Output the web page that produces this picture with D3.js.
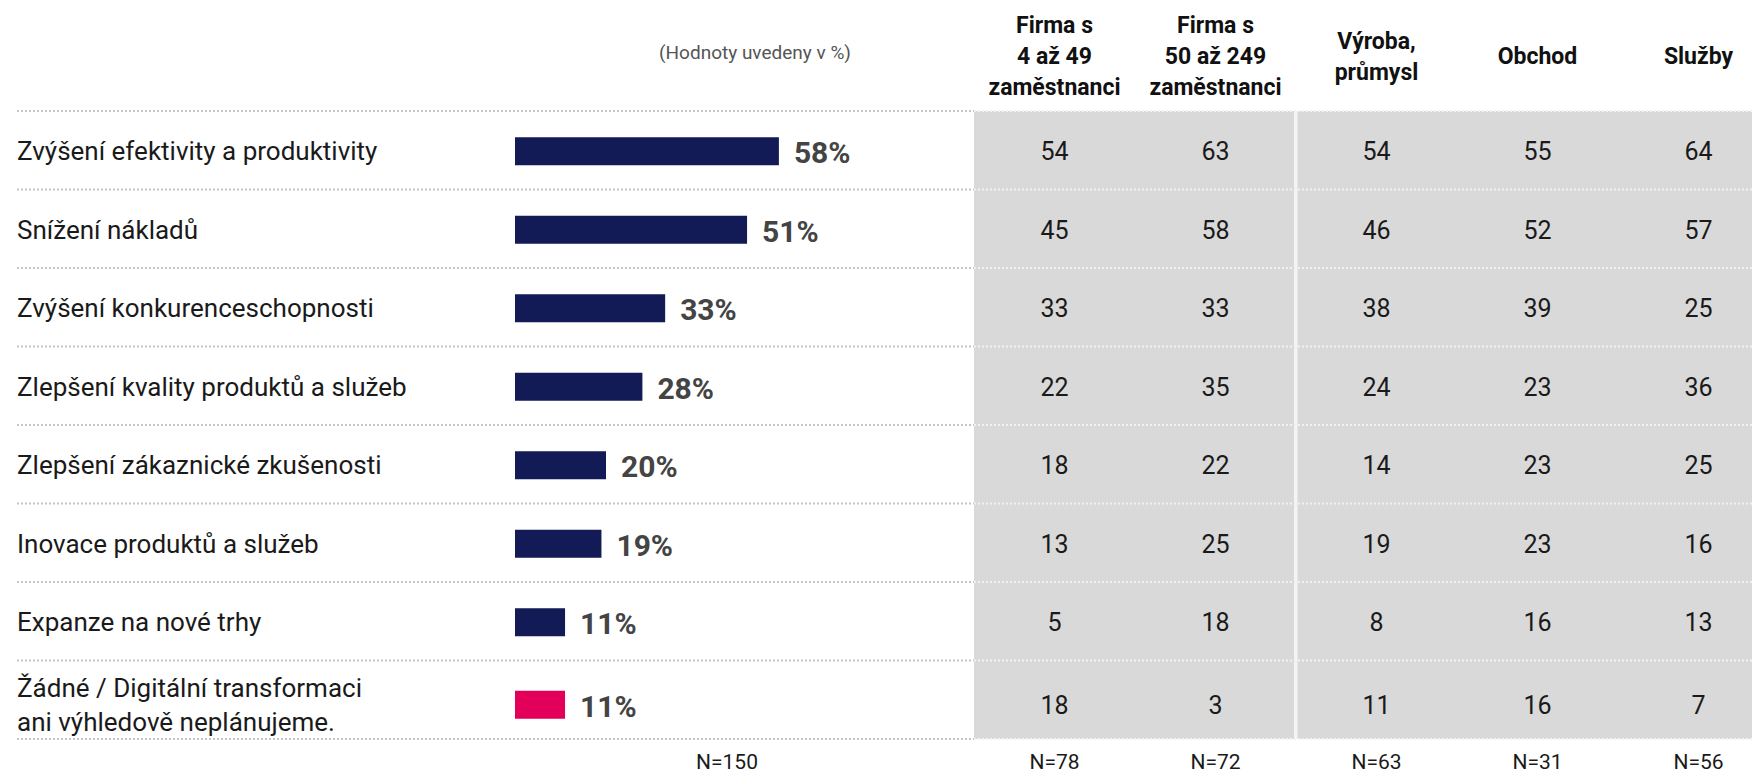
<!DOCTYPE html>
<html>
<head>
<meta charset="utf-8">
<script src="https://cdn.jsdelivr.net/npm/d3@7"></script>
<style>
  html, body { margin: 0; padding: 0; background: #fff; }
  svg { display: block; font-family: Roboto, "Noto Sans", sans-serif; }
</style>
</head>
<body>
<div id="chart"></div>
<script>
// data
var categories = [
    "Zvýšení efektivity a produktivity",
    "Snížení nákladů",
    "Zvýšení konkurenceschopnosti",
    "Zlepšení kvality produktů a služeb",
    "Zlepšení zákaznické zkušenosti",
    "Inovace produktů a služeb",
    "Expanze na nové trhy",
    "Žádné / Digitální transformaci|ani výhledově neplánujeme."
];
var totals = [58, 51, 33, 28, 20, 19, 11, 11];
var columnHeads = [
    ["Firma s", "4 až 49", "zaměstnanci"],
    ["Firma s", "50 až 249", "zaměstnanci"],
    ["Výroba,", "průmysl"],
    ["Obchod"],
    ["Služby"]
];
var small = [54, 45, 33, 22, 18, 13, 5, 18];
var medium = [63, 58, 33, 35, 22, 25, 18, 3];
var industry = [54, 46, 38, 24, 14, 19, 8, 11];
var trade = [55, 52, 39, 23, 23, 23, 16, 16];
var services = [64, 57, 25, 36, 25, 16, 13, 7];
var sampleTotal = "N=150";
var sampleCols = ["N=78", "N=72", "N=63", "N=31", "N=56"];
var unitNote = "(Hodnoty uvedeny v %)";

var tableCols = [small, medium, industry, trade, services];

var width = 1752, height = 774;
const top0 = 111, bottom0 = 739;
const gridLeft = 974;
const colW = 161;

var svg = d3.select('#chart').append('svg')
    .attr('width', width)
    .attr('height', height);

var y = d3.scaleBand()
    .domain(d3.range(categories.length))
    .range([top0, bottom0]);

var x = d3.scaleLinear()
    .domain([0, 100])
    .range([515, 515 + 455]);

var col = d3.scaleBand()
    .domain(d3.range(tableCols.length))
    .range([gridLeft, gridLeft + colW * tableCols.length]);

// the two-line last row sits a bit lower in the source
function rowMid(i) {
    return y(i) + y.bandwidth() / 2 + (i == categories.length - 1 ? 5 : 1);
}

// grey table background
svg.append('rect')
    .attr('x', gridLeft).attr('y', top0)
    .attr('width', width - gridLeft).attr('height', bottom0 - top0)
    .style('fill', '#d9d9d9');

// separator between company size and sector
svg.append('rect')
    .attr('x', col(2) - 2).attr('y', top0)
    .attr('width', 3.5).attr('height', bottom0 - top0)
    .style('fill', '#f4f4f4');

// dotted row lines
var lines = d3.range(categories.length + 1).map(function(i) { return top0 + i * y.step(); });
svg.selectAll('.rowline').data(lines).enter().append('line')
    .attr('x1', 17).attr('x2', gridLeft)
    .attr('y1', function(d) { return d; }).attr('y2', function(d) { return d; })
    .style('stroke', '#c4c4c4').style('stroke-width', 2)
    .style('stroke-dasharray', '2,2');
svg.selectAll('.rowline2').data(lines).enter().append('line')
    .attr('x1', gridLeft).attr('x2', width)
    .attr('y1', function(d) { return d; }).attr('y2', function(d) { return d; })
    .style('stroke', '#f2f2f2').style('stroke-width', 2)
    .style('stroke-dasharray', '2,2');

// row labels
svg.selectAll('.label').data(categories).enter().append('text')
    .attr('x', 17)
    .attr('y', function(d, i) { return rowMid(i); })
    .style('font-size', '26px').style('fill', '#1a1a1a')
    .each(function(d) {
        var parts = d.split('|');
        var t = d3.select(this);
        parts.forEach(function(p, k) {
            t.append('tspan')
                .attr('x', 17)
                .attr('dy', k == 0 ? ((-(parts.length - 1) * 34) / 2 + 9) + 'px' : '34px')
                .text(p);
        });
    });

// bars
svg.selectAll('.bar').data(totals).enter().append('rect')
    .attr('x', x(0))
    .attr('y', function(d, i) { return rowMid(i) - 14; })
    .attr('width', function(d) { return x(d) - x(0); })
    .attr('height', 28)
    .style('fill', function(d, i) { return i == totals.length - 1 ? '#e3005a' : '#131b57'; });

svg.selectAll('.val').data(totals).enter().append('text')
    .attr('x', function(d) { return x(d) + 15; })
    .attr('y', function(d, i) { return rowMid(i) + 12; })
    .style('font-size', '30px').style('font-weight', 'bold').style('fill', '#444')
    .text(function(d) { return d + '%'; });

// unit note
svg.append('text')
    .attr('x', 755).attr('y', 59)
    .attr('text-anchor', 'middle')
    .style('font-size', '19px').style('fill', '#555')
    .text(unitNote);

// column headers
svg.selectAll('.head').data(columnHeads).enter().append('text')
    .attr('text-anchor', 'middle')
    .attr('y', 56)
    .style('font-size', '23px').style('font-weight', 'bold').style('fill', '#111')
    .each(function(d, i) {
        var t = d3.select(this);
        d.forEach(function(p, k) {
            t.append('tspan')
                .attr('x', col(i) + col.bandwidth() / 2)
                .attr('dy', k == 0 ? ((-(d.length - 1) * 31) / 2 + 8) + 'px' : '31px')
                .text(p);
        });
    });

// table cells
tableCols.forEach(function(vals, c) {
    svg.selectAll('.cell' + c).data(vals).enter().append('text')
        .attr('x', col(c) + col.bandwidth() / 2)
        .attr('y', function(d, i) { return rowMid(i) + 9; })
        .attr('text-anchor', 'middle')
        .style('font-size', '25px').style('fill', '#1a1a1a')
        .text(function(d) { return d; });
});

// sample sizes
svg.append('text')
    .attr('x', 727).attr('y', 769)
    .attr('text-anchor', 'middle')
    .style('font-size', '21px').style('fill', '#1a1a1a')
    .text(sampleTotal);
svg.selectAll('.n').data(sampleCols).enter().append('text')
    .attr('x', function(d, i) { return col(i) + col.bandwidth() / 2; })
    .attr('y', 769)
    .attr('text-anchor', 'middle')
    .style('font-size', '21px').style('fill', '#1a1a1a')
    .text(function(d) { return d; });
</script>
</body>
</html>
